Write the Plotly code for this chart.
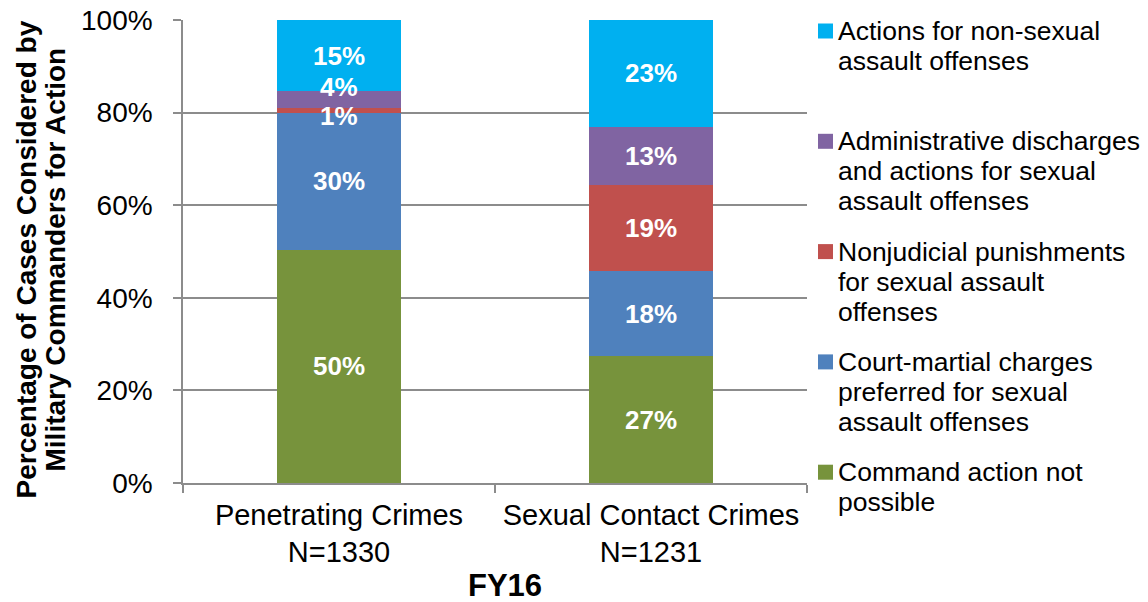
import plotly.graph_objects as go

# ---------------- data ----------------
categories = ["Penetrating Crimes", "Sexual Contact Crimes"]
category_n = ["N=1330", "N=1231"]

series_names = [
    "Command action not<br>possible",
    "Court-martial charges<br>preferred for sexual<br>assault offenses",
    "Nonjudicial punishments<br>for sexual assault<br>offenses",
    "Administrative discharges<br>and actions for sexual<br>assault offenses",
    "Actions for non-sexual<br>assault offenses",
]
command_not_possible = [50.4, 27.4]
court_martial = [29.6, 18.3]
nonjudicial = [0.9, 18.7]
administrative = [3.7, 12.6]
non_sexual = [15.4, 23.0]

series_values = [command_not_possible, court_martial, nonjudicial, administrative, non_sexual]

y_ticks = [0, 20, 40, 60, 80, 100]
x_title = "FY16"
y_title_lines = ["Percentage of Cases Considered by", "Military Commanders for Action"]

# ---------------- style ----------------
colors = ["#77933C", "#4F81BD", "#C0504D", "#8064A2", "#00B0F0"]
FONT = "Liberation Sans, Arial, sans-serif"
GRID = "#8C8C8C"
# pixel nudges for crowded data labels: (series index, category index) -> yshift
label_nudge = {(3, 0): 13, (2, 0): -5}

fig = go.Figure()
for i, (name, vals) in enumerate(zip(series_names, series_values)):
    fig.add_trace(go.Bar(
        x=categories, y=vals, name=name.replace("<br>", " "),
        marker=dict(color=colors[i], line=dict(width=0)),
        showlegend=False,
    ))

annotations = []
shapes = []

# data labels from cumulative stack positions
for ci, cat in enumerate(categories):
    base = 0.0
    for si, vals in enumerate(series_values):
        v = vals[ci]
        annotations.append(dict(
            x=cat, y=base + v / 2, xref="x", yref="y",
            text=f"{round(v)}%", showarrow=False,
            font=dict(family=FONT, size=26, color="white", weight="bold"),
            yshift=label_nudge.get((si, ci), 0),
        ))
        base += v

# legend (top entry = top of stack), drawn beside the plot
LEG_FIRST = 11      # px below plot top of first entry's first line centre
LEG_STEP = 110.3    # px between entries
LEG_LINE = 30       # px between wrapped lines
for k, si in enumerate(reversed(range(len(series_names)))):
    top = LEG_FIRST + k * LEG_STEP
    shapes.append(dict(
        type="rect", xref="paper", yref="paper",
        xsizemode="pixel", ysizemode="pixel", xanchor=1, yanchor=1,
        x0=11, x1=26, y0=-top - 7.5, y1=-top + 7.5,
        fillcolor=colors[si], line=dict(width=0),
    ))
    for j, line in enumerate(series_names[si].split("<br>")):
        annotations.append(dict(
            x=1, y=1, xref="paper", yref="paper",
            xshift=29, yshift=-(top + j * LEG_LINE),
            text=line, showarrow=False, xanchor="left", yanchor="middle",
            font=dict(family=FONT, size=26.5, color="black"),
        ))

# y-axis title, two lines
for k, line in enumerate(y_title_lines):
    annotations.append(dict(
        x=0, y=0.5, xref="paper", yref="paper",
        xshift=-157 + k * 29, yshift=-8,
        text=f"<b>{line}</b>", showarrow=False, textangle=-90,
        xanchor="center", yanchor="middle",
        font=dict(family=FONT, size=28, color="black"),
    ))

# x-axis title
annotations.append(dict(
    x=0.516, y=0, xref="paper", yref="paper", yshift=-102,
    text=f"<b>{x_title}</b>", showarrow=False,
    xanchor="center", yanchor="middle",
    font=dict(family=FONT, size=31, color="black"),
))

fig.update_layout(
    width=1140, height=594,
    margin=dict(l=175, r=341, t=12, b=119),
    paper_bgcolor="white", plot_bgcolor="white",
    barmode="stack", bargap=0.6,
    font=dict(family=FONT, color="black"),
    showlegend=False,
    annotations=annotations,
    shapes=shapes,
    hovermode=False,
)

fig.update_yaxes(
    range=[0, 100.01], tickvals=y_ticks, ticktext=[f"{v}%" for v in y_ticks],
    showgrid=True, gridcolor=GRID, gridwidth=1.5,
    showline=True, linecolor=GRID, linewidth=1.5,
    ticks="outside", ticklen=8, tickcolor=GRID, tickwidth=1.5,
    tickfont=dict(family=FONT, size=28, color="black"),
    zeroline=False, ticklabelstandoff=15, automargin=False,
    ticklabeloverflow="allow",
)
fig.update_xaxes(
    tickvals=categories,
    ticktext=[f"{c}<br>{n}" for c, n in zip(categories, category_n)],
    showline=True, linecolor=GRID, linewidth=1.5,
    ticks="outside", tickson="boundaries", ticklen=8, tickcolor=GRID, tickwidth=1.5,
    tickfont=dict(family=FONT, size=29, color="black"),
    showgrid=False, ticklabelstandoff=5, automargin=False,
)

fig.write_html("out.html")
